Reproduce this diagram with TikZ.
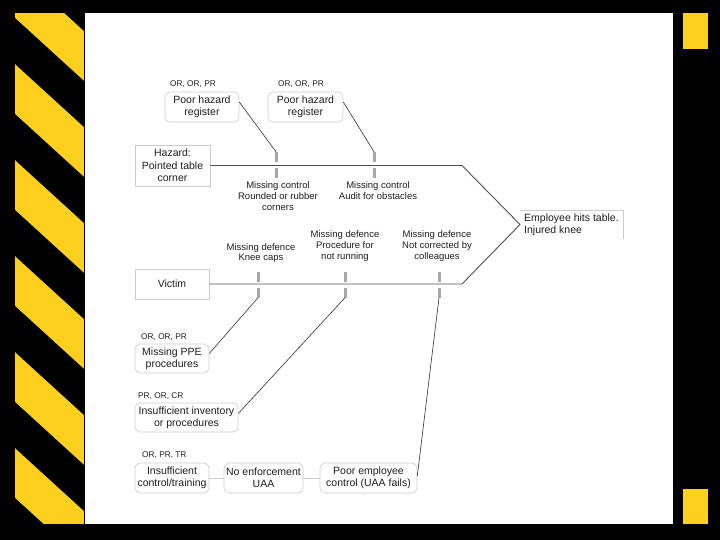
\documentclass[tikz,border=0pt]{standalone}
\usepackage{fontspec}
\setmainfont{Liberation Sans}
\definecolor{yel}{HTML}{FDCF1E}
\definecolor{boxgray}{HTML}{CCCCCC}
\definecolor{txt}{HTML}{1E1E1E}
\definecolor{tickgray}{HTML}{A8A8A8}
\definecolor{spinegray}{HTML}{505050}
\definecolor{diaggray}{HTML}{303030}
\newcommand\bxf{\fontsize{10.5}{12.3}\selectfont}
\newcommand\lbf{\fontsize{9.5}{10.8}\selectfont}
\newcommand\cdf{\fontsize{8.3}{10}\selectfont}
\begin{document}
\begin{tikzpicture}[x=1pt,y=-1pt,
  rbox/.style={draw=boxgray, rounded corners=5pt, line width=0.6pt, align=center, font=\bxf, text=txt, inner sep=0pt},
  sqbox/.style={draw=boxgray, line width=0.6pt, align=center, font=\bxf, text=txt, inner sep=0pt},
  lbl/.style={font=\lbf, align=center, text=txt, inner sep=0pt},
  codelbl/.style={font=\cdf, text=txt, inner sep=0pt},
  tickmark/.style={fill=tickgray, draw=none, minimum width=3pt, minimum height=10pt, inner sep=0pt},
  spine/.style={draw=spinegray, line width=0.9pt},
  diag/.style={draw=diaggray, line width=0.6pt}]
\useasboundingbox (0,0) rectangle (720,540);
% frame
\fill[black] (0,0) rectangle (720,540);
\fill[white] (85,13) rectangle (673,524);
\fill[yel] (15,13) rectangle (84,524);
\begin{scope}
  \clip (15,13) rectangle (84,524);
  \foreach \k in {-1,...,5}
    \fill[black] (15,{18+96*\k}) -- (84,{81+96*\k}) -- (84,{127+96*\k}) -- (15,{64+96*\k}) -- cycle;
\end{scope}
\fill[yel] (683,13) rectangle (708,49);
\fill[yel] (683,489) rectangle (708,524);

% top boxes
\node[codelbl] (c1) at (193,84) {OR, OR, PR};
\node[rbox, minimum width=74pt, minimum height=30pt] (ph1) at (202,107) {Poor hazard\\register};
\node[codelbl] (c2) at (301,84) {OR, OR, PR};
\node[rbox, minimum width=75pt, minimum height=30pt] (ph2) at (305.5,107) {Poor hazard\\register};

% head boxes
\node[sqbox, minimum width=75pt, minimum height=41pt] (hazard) at (172.5,165.5) {Hazard:\\Pointed table\\corner};
\node[sqbox, minimum width=74pt, minimum height=30pt] (victim) at (172,284) {Victim};

% spine
\coordinate (tr) at (462,165.5);
\coordinate (tip) at (520,224.5);
\coordinate (br) at (462,284);
\draw[spine] (hazard.east) -- (tr) -- (tip) -- (br) -- (victim.east);

% effect
\node[anchor=west, align=left, font=\bxf, text=txt, inner sep=0pt] (eff) at (524,225) {Employee hits table.\\Injured knee};
\draw[boxgray, line width=0.6pt] (520,210) -- (623,210) -- (623,239);

% top ticks
\node[tickmark] (a1) at (276,157) {};
\node[tickmark] (b1) at (276,173) {};
\node[tickmark] (a2) at (374,157) {};
\node[tickmark] (b2) at (374,173) {};
\node[lbl] (l1) at (278,196) {Missing control\\Rounded or rubber\\corners};
\node[lbl] (l2) at (378,190.5) {Missing control\\Audit for obstacles};
\draw[diag] ([yshift=5pt]ph1.east) -- (a1.north);
\draw[diag] ([yshift=5pt]ph2.east) -- (a2.north);

% bottom ticks
\node[tickmark] (a3) at (258,277) {};
\node[tickmark] (b3) at (258,292.5) {};
\node[tickmark] (a4) at (345,277) {};
\node[tickmark] (b4) at (345,292.5) {};
\node[tickmark] (a5) at (439,277) {};
\node[tickmark] (b5) at (439,292.5) {};
\node[lbl] (l3) at (261,253) {Missing defence\\Knee caps};
\node[lbl] (l4) at (345,246) {Missing defence\\Procedure for\\not running};
\node[lbl] (l5) at (437,246) {Missing defence\\Not corrected by\\colleagues};

% cause boxes
\node[codelbl, anchor=west] (c3) at (141,337) {OR, OR, PR};
\node[rbox, minimum width=74pt, minimum height=29pt] (ppe) at (172,358.5) {Missing PPE\\procedures};
\node[codelbl, anchor=west] (c4) at (138,396) {PR, OR, CR};
\node[rbox, minimum width=103pt, minimum height=29pt] (inv) at (186.5,417.5) {Insufficient inventory\\or procedures};
\node[codelbl, anchor=west] (c5) at (142,455) {OR, PR, TR};
\node[rbox, minimum width=74pt, minimum height=30pt] (ict) at (172,478) {Insufficient\\control/training};
\node[rbox, minimum width=79pt, minimum height=30pt] (noenf) at (263.5,478) {No enforcement\\UAA};
\node[rbox, minimum width=97pt, minimum height=30pt] (poor) at (368.5,478) {Poor employee\\control (UAA fails)};

\draw[diag] (b3.south) -- ([yshift=5pt]ppe.east);
\draw[diag] (b4.south) -- ([yshift=4pt]inv.east);
\draw[diag] (b5.south) -- ([yshift=2pt]poor.east);
\draw[boxgray, line width=0.8pt] (ict.east) -- (noenf.west);
\draw[boxgray, line width=0.8pt] (noenf.east) -- (poor.west);
\end{tikzpicture}
\end{document}
